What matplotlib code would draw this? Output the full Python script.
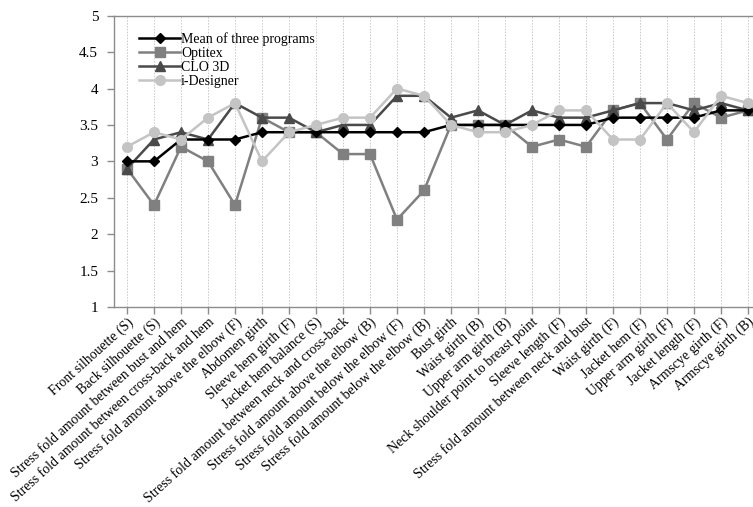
import matplotlib
matplotlib.use("Agg")
import matplotlib.pyplot as plt
import numpy as np

categories = [
    "Front silhouette (S)", "Back silhouette (S)",
    "Stress fold amount between bust and hem",
    "Stress fold amount between cross-back and hem",
    "Stress fold amount above the elbow (F)", "Abdomen girth",
    "Sleeve hem girth (F)", "Jacket hem balance (S)",
    "Stress fold amount between neck and cross-back",
    "Stress fold amount above the elbow (B)",
    "Stress fold amount below the elbow (F)",
    "Stress fold amount below the elbow (B)", "Bust girth",
    "Waist girth (B)", "Upper arm girth (B)",
    "Neck shoulder point to breast point", "Sleeve length (F)",
    "Stress fold amount between neck and bust", "Waist girth (F)",
    "Jacket hem (F)", "Upper arm girth (F)", "Jacket length (F)",
    "Armscye girth (F)", "Armscye girth (B)",
]

mean_vals = [3.0, 3.0, 3.3, 3.3, 3.3, 3.4, 3.4, 3.4, 3.4, 3.4, 3.4, 3.4,
             3.5, 3.5, 3.5, 3.5, 3.5, 3.5, 3.6, 3.6, 3.6, 3.6, 3.7, 3.7]
optitex = [2.9, 2.4, 3.2, 3.0, 2.4, 3.6, 3.4, 3.4, 3.1, 3.1, 2.2, 2.6,
           3.5, 3.5, 3.5, 3.2, 3.3, 3.2, 3.7, 3.8, 3.3, 3.8, 3.6, 3.7]
clo3d = [2.9, 3.3, 3.4, 3.3, 3.8, 3.6, 3.6, 3.4, 3.5, 3.5, 3.9, 3.9,
         3.6, 3.7, 3.5, 3.7, 3.6, 3.6, 3.7, 3.8, 3.8, 3.7, 3.8, 3.7]
idesigner = [3.2, 3.4, 3.3, 3.6, 3.8, 3.0, 3.4, 3.5, 3.6, 3.6, 4.0, 3.9,
             3.5, 3.4, 3.4, 3.5, 3.7, 3.7, 3.3, 3.3, 3.8, 3.4, 3.9, 3.8]

yticks = [1, 1.5, 2, 2.5, 3, 3.5, 4, 4.5, 5]
ytick_labels = ["1", "1.5", "2", "2.5", "3", "3.5", "4", "4.5", "5"]

plt.rcParams['font.family'] = ['Liberation Serif', 'DejaVu Serif']

fig = plt.figure(figsize=(7.53, 5.07), dpi=100)
ax = fig.add_axes([113.5 / 753, 200 / 507, 648 / 753, 291.3 / 507])

x = np.arange(len(categories))

l_mean, = ax.plot(x, mean_vals, color='#000000', lw=1.8, marker='D', ms=5,
                  zorder=4, label='Mean of three programs')
l_opt, = ax.plot(x, optitex, color='#808080', lw=1.8, marker='s', ms=7,
                 zorder=2, label='Optitex')
l_clo, = ax.plot(x, clo3d, color='#4a4a4a', lw=1.8, marker='^', ms=7,
                 zorder=3, label='CLO 3D')
l_id, = ax.plot(x, idesigner, color='#c4c4c4', lw=1.8, marker='o', ms=7,
                zorder=5, label='i-Designer')

ax.set_xlim(-0.5, len(categories) - 0.5)
ax.set_ylim(1, 5)
ax.set_yticks(yticks)
ax.set_yticklabels(ytick_labels, fontsize=11)
ax.set_xticks(x)
ax.set_xticklabels(categories, rotation=42, ha='right', va='top',
                   rotation_mode='anchor', fontsize=10)

for xi in x:
    ax.axvline(xi, color='#c8c8c8', lw=0.7, ls=(0, (1.5, 1.5)), zorder=1)

for s in ['right']:
    ax.spines[s].set_visible(False)
for s in ['left', 'bottom', 'top']:
    ax.spines[s].set_color('#8c8c8c')
    ax.spines[s].set_linewidth(1.0)

ax.tick_params(axis='both', direction='out', length=5, color='#8c8c8c',
               width=1.0)
ax.tick_params(axis='y', pad=6)
ax.tick_params(axis='x', pad=1)

leg = ax.legend(handles=[l_mean, l_opt, l_clo, l_id], loc='upper left',
                bbox_to_anchor=(0.04, 0.945), frameon=False, fontsize=10,
                handlelength=2.9, handletextpad=0.1, labelspacing=0.08,
                borderaxespad=0.0, borderpad=0.0)

fig.savefig('out.png', dpi=100)
